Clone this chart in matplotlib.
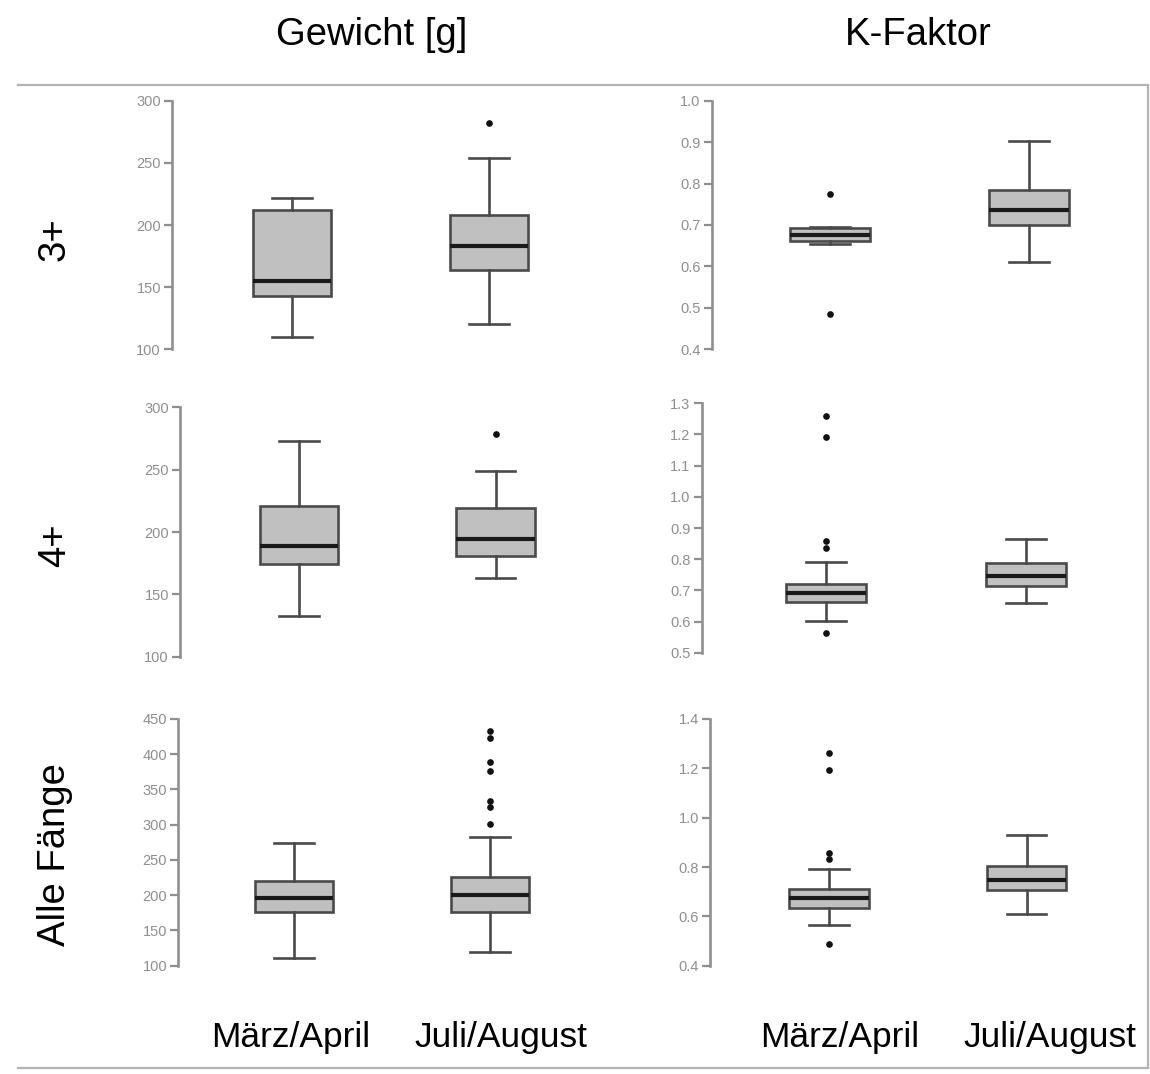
import matplotlib
matplotlib.use('Agg')
import matplotlib.pyplot as plt
from matplotlib.lines import Line2D
from matplotlib.ticker import FormatStrFormatter, MultipleLocator
import numpy as np

plt.rcParams['font.family'] = ['Liberation Sans', 'DejaVu Sans']

W, H = 1150, 1074

groups = ['März/April', 'Juli/August']
columns = ['Gewicht [g]', 'K-Faktor']
rows = ['3+', '4+', 'Alle Fänge']

# each box: [whisker low, q1, median, q3, whisker high]
gewicht_3plus = [[110, 142.6, 155, 211.7, 222], [120, 163.5, 183.5, 208.4, 254]]
gewicht_3plus_out = [[], [282]]
kfaktor_3plus = [[0.655, 0.662, 0.676, 0.692, 0.696], [0.61, 0.699, 0.735, 0.785, 0.903]]
kfaktor_3plus_out = [[0.486, 0.774], []]

gewicht_4plus = [[133, 174.3, 188.7, 221, 273], [163, 180.5, 194.7, 219.4, 249]]
gewicht_4plus_out = [[], [278.6]]
kfaktor_4plus = [[0.601, 0.663, 0.690, 0.719, 0.791], [0.658, 0.714, 0.747, 0.789, 0.865]]
kfaktor_4plus_out = [[0.563, 0.836, 0.859, 1.193, 1.259], []]

gewicht_alle = [[110.4, 175.7, 196, 220.6, 273.6], [119.4, 176.6, 200.3, 226, 282.6]]
gewicht_alle_out = [[], [301, 325.5, 334, 376.7, 389.4, 422.6, 433]]
kfaktor_alle = [[0.564, 0.635, 0.674, 0.711, 0.791], [0.608, 0.706, 0.746, 0.803, 0.930]]
kfaktor_alle_out = [[0.487, 0.834, 0.858, 1.192, 1.261], []]

# y range and tick step per panel
yscales = [(100, 300, 50), (0.4, 1.0, 0.1),
           (100, 300, 50), (0.5, 1.3, 0.1),
           (100, 450, 50), (0.4, 1.4, 0.2)]

panels = [(gewicht_3plus, gewicht_3plus_out), (kfaktor_3plus, kfaktor_3plus_out),
          (gewicht_4plus, gewicht_4plus_out), (kfaktor_4plus, kfaktor_4plus_out),
          (gewicht_alle, gewicht_alle_out), (kfaktor_alle, kfaktor_alle_out)]

# layout in pixels: spine x, top y, bottom y, centre box 1, centre box 2
layout = [(172, 100.7, 349.3, 292, 489), (711.7, 100.7, 349.3, 830, 1029),
          (180, 407.3, 656.7, 299, 495.7), (701.7, 403.3, 652.7, 825.7, 1025.7),
          (178.3, 719, 965.7, 294, 490), (710, 719, 965.7, 829, 1026.7)]

grey = '#8f8f8f'
dark = '#4a4a4a'

fig = plt.figure(figsize=(W / 100, H / 100), dpi=100)

for (boxes, outs), (ymin, ymax, step), (sx, ty, by, c1, c2) in zip(panels, yscales, layout):
    right = c2 + 100
    ax = fig.add_axes([sx / W, 1 - by / H, (right - sx) / W, (by - ty) / H])
    stats = []
    for b, o, g in zip(boxes, outs, groups):
        stats.append(dict(whislo=b[0], q1=b[1], med=b[2], q3=b[3], whishi=b[4],
                          fliers=o, label=g))
    ax.bxp(stats, positions=[1, 2], widths=0.4, capwidths=0.2, patch_artist=True,
           boxprops=dict(facecolor='#c0c0c0', edgecolor=dark, linewidth=1.9),
           medianprops=dict(color='#1a1a1a', linewidth=3.0, solid_capstyle='butt'),
           whiskerprops=dict(color=dark, linewidth=1.9),
           capprops=dict(color=dark, linewidth=1.9),
           flierprops=dict(marker='o', markersize=3.8, markerfacecolor='#111111',
                           markeredgecolor='#111111'))
    pxu = c2 - c1
    ax.set_xlim(1 - (c1 - sx) / pxu, 2 + (right - c2) / pxu)
    ax.set_ylim(ymin, ymax)
    ax.yaxis.set_major_locator(MultipleLocator(step))
    if ymax < 10:
        ax.yaxis.set_major_formatter(FormatStrFormatter('%.1f'))
    for s in ['top', 'right', 'bottom']:
        ax.spines[s].set_visible(False)
    ax.spines['left'].set_color(grey)
    ax.spines['left'].set_linewidth(1.9)
    ax.set_xticks([])
    ax.tick_params(axis='y', direction='out', length=6, width=1.6, color=grey,
                   labelcolor=grey, labelsize=10.5, pad=2)
    ax.patch.set_alpha(0)

# column titles
fig.text(372 / W, 1 - 35 / H, columns[0], ha='center', va='center', fontsize=27.5)
fig.text(918 / W, 1 - 35 / H, columns[1], ha='center', va='center', fontsize=27.5)

# row labels
for lab, y in zip(rows, [239, 545, 855]):
    fig.text(55 / W, 1 - y / H, lab, ha='center', va='center', rotation=90, fontsize=27.5)

# group labels below
for lab, x in zip(groups + groups, [291, 501, 840, 1050]):
    fig.text(x / W, 1 - 1037 / H, lab, ha='center', va='center', fontsize=25.5)

# frame
frame_c = '#b4b4b4'
fig.add_artist(Line2D([18 / W, 1148 / W], [1 - 85 / H, 1 - 85 / H], color=frame_c, lw=1.6))
fig.add_artist(Line2D([18 / W, 1148 / W], [1 - 1068 / H, 1 - 1068 / H], color=frame_c, lw=1.6))
fig.add_artist(Line2D([1148 / W, 1148 / W], [1 - 85 / H, 1 - 1068 / H], color=frame_c, lw=1.6))

fig.savefig('out.png', dpi=100)
